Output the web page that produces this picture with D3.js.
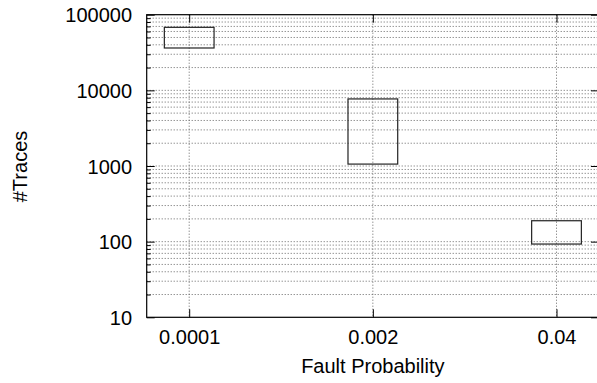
<!DOCTYPE html>
<html>
<head>
<meta charset="utf-8">
<script src="https://cdn.jsdelivr.net/npm/d3@7"></script>
<style>
    body { margin: 0; background: #fff; }
    svg { display: block; font-family: "Liberation Sans", Arial, sans-serif; }
    .axis .domain { display: none; }
    .axis text { font-size: 20px; fill: #000; }
    .grid line { stroke: #666; stroke-width: 1; stroke-dasharray: 1,2; }
</style>
</head>
<body>
<svg width="597" height="383"></svg>
<script>
    // tick labels
    var xTicks = [0.0001, 0.002, 0.04];
    var xTickLabels = ["0.0001", "0.002", "0.04"];
    var yTicks = [10, 100, 1000, 10000, 100000];
    var yTickLabels = ["10", "100", "1000", "10000", "100000"];

    // boxes: fault probability, low / high trace counts
    var probs = [0.0001, 0.002, 0.04];
    var lowTraces = [36300, 1060, 93];
    var highTraces = [68100, 7700, 189];

    var svg = d3.select("svg"),
        W = +svg.attr("width"),
        H = +svg.attr("height"),
        margin = {top: 14.7, right: -2, bottom: 65.7, left: 146.7},
        width = W - margin.left - margin.right,
        height = H - margin.top - margin.bottom,
        g = svg.append("g").attr("transform", "translate(" + margin.left + "," + margin.top + ")");

    var x = d3.scaleLog().domain([5e-5, 0.08]).range([0, width]);
    var y = d3.scaleLog().domain([10, 100000]).range([height, 0]);

    // minor y values 2..9 per decade
    var yMinor = [];
    for (var d = 10; d < 100000; d *= 10) {
        for (var m = 2; m <= 9; m++) yMinor.push(d * m);
    }

    // grid
    var grid = g.append("g").attr("class", "grid");
    grid.selectAll(".gy")
        .data(yTicks.slice(1, -1).concat(yMinor))
        .enter().append("line")
        .attr("x1", 0).attr("x2", width)
        .attr("y1", function(d) { return y(d); })
        .attr("y2", function(d) { return y(d); });
    grid.selectAll(".gx")
        .data(xTicks)
        .enter().append("line")
        .attr("y1", 0).attr("y2", height)
        .attr("x1", function(d) { return x(d); })
        .attr("x2", function(d) { return x(d); });

    // boxes
    var bw = 1.5; // multiplicative half width on the log axis
    g.selectAll(".box")
        .data(probs)
        .enter().append("rect")
        .attr("class", "box")
        .attr("x", function(d) { return x(d / bw); })
        .attr("width", function(d) { return x(d * bw) - x(d / bw); })
        .attr("y", function(d, i) { return y(highTraces[i]); })
        .attr("height", function(d, i) { return y(lowTraces[i]) - y(highTraces[i]); })
        .attr("fill", "none")
        .attr("stroke", "#222")
        .attr("stroke-width", 1.2);

    // axes
    g.append("g").attr("class", "axis")
        .call(d3.axisLeft(y).tickValues(yTicks)
            .tickFormat(function(d, i) { return yTickLabels[i]; })
            .tickSizeInner(-8).tickSizeOuter(0).tickPadding(14.7))
        .selectAll("text").attr("dy", "0.36em");
    g.append("g").attr("class", "axis")
        .call(d3.axisLeft(y).tickValues(yMinor).tickFormat("")
            .tickSizeInner(-4).tickSizeOuter(0));
    g.append("g").attr("class", "axis")
        .attr("transform", "translate(" + width + ",0)")
        .call(d3.axisRight(y).tickValues(yTicks).tickFormat("").tickSizeInner(-8).tickSizeOuter(0));

    g.append("g").attr("class", "axis")
        .attr("transform", "translate(0," + height + ")")
        .call(d3.axisBottom(x).tickValues(xTicks)
            .tickFormat(function(d, i) { return xTickLabels[i]; })
            .tickSizeInner(-8).tickSizeOuter(0).tickPadding(13))
        .selectAll("text").attr("dy", "0.71em");
    g.append("g").attr("class", "axis")
        .call(d3.axisTop(x).tickValues(xTicks).tickFormat("").tickSizeInner(-8).tickSizeOuter(0));

    g.selectAll(".axis line").attr("stroke", "#000");

    // border
    g.append("rect")
        .attr("width", width).attr("height", height)
        .attr("fill", "none").attr("stroke", "#000").attr("stroke-width", 1.2);

    // axis titles
    svg.append("text")
        .attr("x", margin.left + x(0.002))
        .attr("y", 373)
        .attr("text-anchor", "middle")
        .attr("font-size", "20px")
        .text("Fault Probability");

    svg.append("text")
        .attr("transform", "translate(27," + 166.5 + ") rotate(-90)")
        .attr("text-anchor", "middle")
        .attr("font-size", "20px")
        .text("#Traces");
</script>
</body>
</html>
